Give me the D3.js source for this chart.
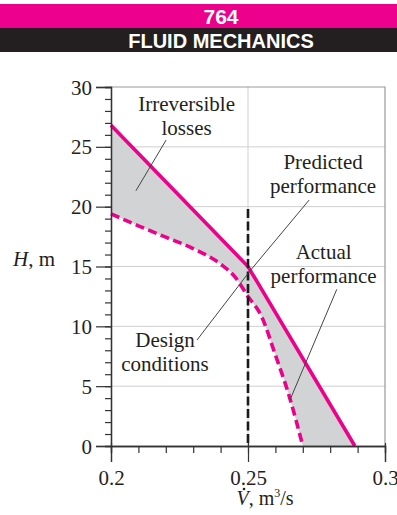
<!DOCTYPE html>
<html>
<head>
<meta charset="utf-8">
<script src="https://cdn.jsdelivr.net/npm/d3@7"></script>
<style>
  html, body { margin: 0; padding: 0; background: #fff; }
  svg { display: block; }
</style>
</head>
<body>
<svg id="chart"></svg>
<script>
// ---- data ----
const predictedQ = [0.2, 0.25, 0.289];
const predictedH = [26.8, 15.0, 0];

const actualQ = [0.2, 0.21, 0.22, 0.23, 0.24, 0.245, 0.25, 0.255, 0.26, 0.265, 0.27];
const actualH = [19.4, 18.4, 17.45, 16.5, 15.2, 14.2, 12.5, 10.8, 7.6, 4.2, 0];

const designQ = 0.25;
const designTop = 19.8;

const xTicks = [0.2, 0.25, 0.3];
const xTickLabels = ["0.2", "0.25", "0.3"];
const xMinorTicks = [0.2, 0.21, 0.22, 0.23, 0.24, 0.25, 0.26, 0.27, 0.28, 0.29, 0.3];
const yTicks = [0, 5, 10, 15, 20, 25, 30];

// annotation text (lines) and leader ends, in data units
const notes = [
  { lines: ["Irreversible", "losses"], q: 0.2276, h: 28.0, from: [0.2201, 25.56], to: [0.2091, 21.33] },
  { lines: ["Predicted", "performance"], q: 0.2774, h: 23.12, from: [0.2723, 20.55], to: [0.2507, 14.62] },
  { lines: ["Actual", "performance"], q: 0.2776, h: 15.6, from: [0.2824, 13.09], to: [0.2653, 3.84] },
  { lines: ["Design", "conditions"], q: 0.2197, h: 8.3, from: [0.2314, 8.86], to: [0.2507, 14.62] }
];

const W = 397, H = 515;
const magenta = "#ec008c";
const serif = "'Liberation Serif', 'Times New Roman', serif";

const svg = d3.select("#chart").attr("width", W).attr("height", H);

// ---- header bands ----
svg.append("rect").attr("x", 0).attr("y", 4).attr("width", W).attr("height", 24).attr("fill", magenta);
svg.append("rect").attr("x", 0).attr("y", 28).attr("width", W).attr("height", 24).attr("fill", "#231f20");
svg.append("text").attr("x", 221).attr("y", 24).attr("text-anchor", "middle")
  .attr("font-family", "'Liberation Sans', Arial, sans-serif").attr("font-weight", "bold")
  .attr("font-size", "21px").attr("fill", "#fff").text("764");
svg.append("text").attr("x", 221).attr("y", 48).attr("text-anchor", "middle")
  .attr("font-family", "'Liberation Sans', Arial, sans-serif").attr("font-weight", "bold")
  .attr("font-size", "20px").attr("fill", "#fff").text("FLUID MECHANICS");

// ---- scales ----
const x = d3.scaleLinear().domain([0.2, 0.3]).range([111, 385]);
const y = d3.scaleLinear().domain([0, 30]).range([446, 87]);

// ---- grid + frame ----
const grid = svg.append("g");
grid.selectAll(".hg").data(yTicks.filter(d => d > 0 && d < 30)).join("line")
  .attr("x1", x(0.2)).attr("x2", x(0.3)).attr("y1", d => y(d)).attr("y2", d => y(d))
  .attr("stroke", "#cfcfcf").attr("stroke-width", 1);
grid.append("line").attr("x1", x(0.25)).attr("x2", x(0.25)).attr("y1", y(0)).attr("y2", y(30))
  .attr("stroke", "#cfcfcf").attr("stroke-width", 1);
grid.append("path")
  .attr("d", `M${x(0.2)},${y(30)}H${x(0.3)}V${y(0)}`)
  .attr("fill", "none").attr("stroke", "#9a9a9a").attr("stroke-width", 1.2);

// ---- shaded loss region ----
const pred = predictedQ.map((q, i) => [q, predictedH[i]]);
const act = actualQ.map((q, i) => [q, actualH[i]]);

const lineGen = d3.line().x(d => x(d[0])).y(d => y(d[1]));
const smoothGen = d3.line().x(d => x(d[0])).y(d => y(d[1])).curve(d3.curveMonotoneX);

const actPath = smoothGen(act);
const region = lineGen(pred) + "L" + x(actualQ[actualQ.length - 1]) + "," + y(0) +
  smoothGen(act.slice().reverse()).replace(/^M/, "L") + "Z";
svg.append("path").attr("d", region).attr("fill", "#d1d3d4");

// ---- curves ----
svg.append("path").attr("d", actPath).attr("fill", "none")
  .attr("stroke", magenta).attr("stroke-width", 3.6).attr("stroke-dasharray", "9,4.5");
svg.append("path").attr("d", lineGen(pred)).attr("fill", "none")
  .attr("stroke", magenta).attr("stroke-width", 3.6);

// design-point marker line
svg.append("line").attr("x1", x(designQ)).attr("x2", x(designQ))
  .attr("y1", y(designTop)).attr("y2", y(0))
  .attr("stroke", "#1a1a1a").attr("stroke-width", 2.6).attr("stroke-dasharray", "9,3.5");

// ---- axes ----
const axisColor = "#333";
const yMinor = svg.append("g").attr("transform", `translate(${x(0.2)},0)`)
  .call(d3.axisLeft(y).tickValues(d3.range(0, 31, 1)).tickSize(6).tickFormat(""));
const yMajor = svg.append("g").attr("transform", `translate(${x(0.2)},0)`)
  .call(d3.axisLeft(y).tickValues(yTicks).tickSize(15).tickPadding(4));
const xMinor = svg.append("g").attr("transform", `translate(0,${y(0)})`)
  .call(d3.axisBottom(x).tickValues(xMinorTicks).tickSize(7).tickFormat(""));
const xMajor = svg.append("g").attr("transform", `translate(0,${y(0)})`)
  .call(d3.axisBottom(x).tickValues(xTicks).tickSize(16).tickPadding(8)
    .tickFormat((d, i) => xTickLabels[i]));

[yMinor, yMajor, xMinor, xMajor].forEach(g => {
  g.select(".domain").attr("stroke", axisColor).attr("stroke-width", 1.3);
  g.selectAll(".tick line").attr("stroke", axisColor).attr("stroke-width", 1.2);
  g.selectAll("text").attr("font-family", serif).attr("font-size", "21px").attr("fill", "#231f20");
});
yMajor.selectAll("text").attr("dy", "0.34em");
xMajor.selectAll("text").attr("dy", "0.7em");
// major x ticks poke slightly above the axis
xMajor.selectAll(".tick line").attr("y1", -3);

// ---- axis titles ----
const yTitle = svg.append("text").attr("x", 13).attr("y", 266)
  .attr("font-family", serif).attr("font-size", "21px").attr("fill", "#231f20");
yTitle.append("tspan").attr("font-style", "italic").text("H");
yTitle.append("tspan").text(", m");

const xTitle = svg.append("text").attr("x", 265).attr("y", 505).attr("text-anchor", "middle")
  .attr("font-family", serif).attr("font-size", "20px").attr("fill", "#231f20");
xTitle.append("tspan").attr("font-style", "italic").text("V");
xTitle.append("tspan").text(", m");
xTitle.append("tspan").attr("font-size", "12px").attr("dy", "-8").text("3");
xTitle.append("tspan").attr("dy", "8").text("/s");
// dot over V (flow rate)
const vBox = xTitle.node().getExtentOfChar(0);
svg.append("circle")
  .attr("cx", vBox.x + vBox.width * 0.62).attr("cy", 505 - 16)
  .attr("r", 1.3).attr("fill", "#231f20");

// ---- annotations ----
const ann = svg.append("g");
notes.forEach(n => {
  ann.append("line")
    .attr("x1", x(n.from[0])).attr("y1", y(n.from[1]))
    .attr("x2", x(n.to[0])).attr("y2", y(n.to[1]))
    .attr("stroke", "#444").attr("stroke-width", 1);
  const t = ann.append("text").attr("text-anchor", "middle")
    .attr("font-family", serif).attr("font-size", "21px").attr("fill", "#231f20");
  n.lines.forEach((s, i) => {
    t.append("tspan").attr("x", x(n.q)).attr("y", y(n.h) + i * 24).text(s);
  });
});
</script>
</body>
</html>
